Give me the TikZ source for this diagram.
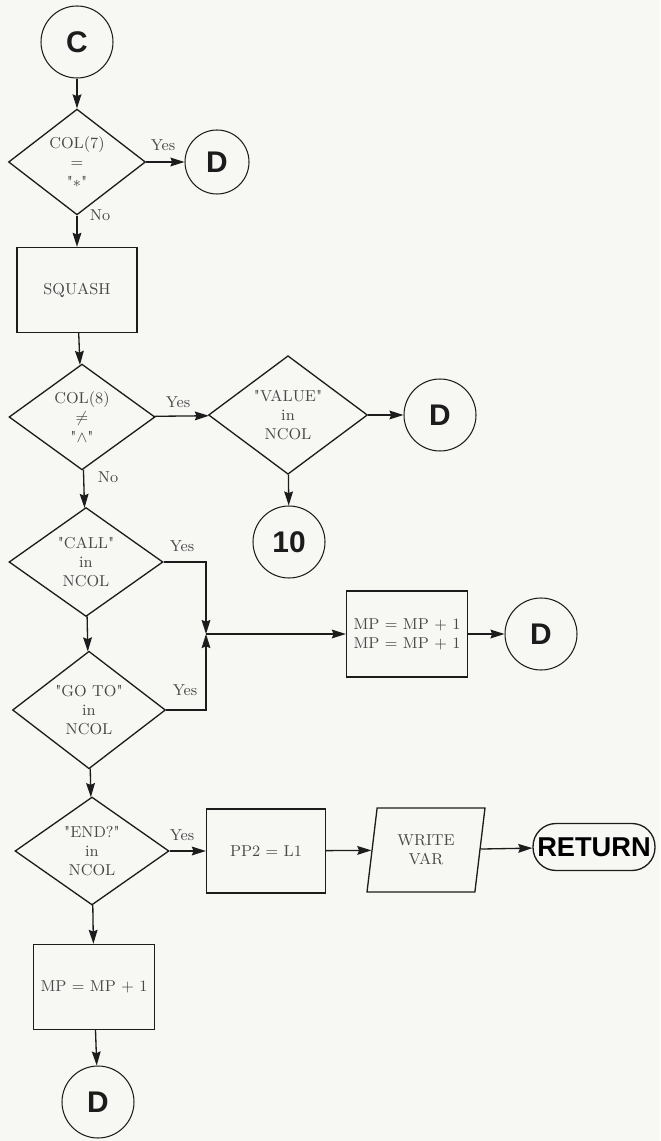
\documentclass[tikz,border=0pt]{standalone}
\usepackage{fontspec}
\usepackage{xcolor}
\usepackage{tikz}
\usetikzlibrary{shapes.geometric, arrows.meta, positioning}
\newfontfamily\letterfont{Liberation Sans}
\newcommand\qtxt[1]{\textquotedbl#1\textquotedbl}
\definecolor{Paper}{RGB}{247,247,244}
\definecolor{Ink}{RGB}{28,28,28}
\definecolor{TypeInk}{RGB}{72,72,72}
\tikzset{
  flow/.style={-{Stealth[length=8pt, width=5pt, inset=1pt]}, line width=0.75pt, draw=Ink},
  decision/.style={diamond, draw=Ink, line width=0.75pt, inner sep=0pt, align=center,
    font=\small, text=TypeInk},
  procbox/.style={draw=Ink, line width=0.75pt, minimum width=2.4cm, minimum height=1.7cm,
    inner sep=2pt, align=center, font=\small, text=TypeInk},
  conn/.style={circle, draw=Ink, line width=0.6pt, minimum size=1.44cm, inner sep=0pt,
    font=\letterfont\bfseries\fontsize{17}{20}\selectfont, text=Ink},
  iobox/.style={trapezium, trapezium left angle=79, trapezium right angle=101,
    trapezium stretches=true, draw=Ink, line width=0.75pt, minimum width=2.36cm,
    minimum height=1.68cm, inner sep=0pt, align=center, font=\small, text=TypeInk},
  term/.style={draw=Ink, line width=0.75pt, rounded corners=0.46cm, minimum width=2.44cm,
    minimum height=0.94cm, inner sep=0pt, font=\letterfont\bfseries\fontsize{15.5}{18}\selectfont},
  lbl/.style={font=\small, text=TypeInk, inner sep=1pt},
}

\begin{document}
\begin{tikzpicture}[x=0.02cm, y=-0.02cm]
  \fill[Paper] (0,0) rectangle (660,1141);
  \node[conn] (c0) at (77,42) {C};
  \node[decision, minimum width=2.74cm, minimum height=1.92cm] (q7) at (77,162) {COL(7)\\=\\\qtxt{$*$}};
  \foreach \n/\x/\y/\s in {d1/217/162/1.28, d2/440/415/1.44, d3/541/634/1.44, d4/98/1102/1.44}
    \node[conn, minimum size=\s cm] (\n) at (\x,\y) {D};
  \node[procbox] (sq) at (77,290) {SQUASH};
  \node[decision, minimum width=2.92cm, minimum height=2.08cm] (q8) at (82,417) {COL(8)\\$\neq$\\\qtxt{$\wedge$}};
  \node[decision, minimum width=3.18cm, minimum height=2.24cm] (qv) at (288,415) {\qtxt{VALUE}\\in\\NCOL};
  \node[conn] (n10) at (289,542) {10};
  \node[decision, minimum width=3.08cm, minimum height=2.18cm] (qcall) at (86,562) {\qtxt{CALL}\\in\\NCOL};
  \node[decision, minimum width=3.06cm, minimum height=2.16cm] (qgoto) at (89,710) {\qtxt{GO TO}\\in\\NCOL};
  \coordinate (jn) at (206,634);
  \node[procbox, minimum width=2.42cm, minimum height=1.72cm] (mp2) at (407,634) {MP = MP + 1\\MP = MP + 1};
  \node[decision, minimum width=3.08cm, minimum height=2.16cm] (qend) at (92,851) {\qtxt{END?}\\in\\NCOL};
  \node[procbox, minimum width=2.38cm, minimum height=1.68cm] (pp) at (266,851) {PP2 = L1};
  \node[iobox] (wr) at (426,850) {WRITE\\VAR};
  \node[term] (ret) at (594,847) {RETURN};
  \node[procbox, minimum width=2.42cm] (mp1) at (94,987) {MP = MP + 1};

  \node[lbl] (y1) at (163,145) {Yes};
  \node[lbl] (n1) at (100,215) {No};
  \node[lbl] (y2) at (178,402) {Yes};
  \node[lbl] (n2) at (108,477) {No};
  \node[lbl] (y3) at (182,546) {Yes};
  \node[lbl] (y4) at (185,690) {Yes};
  \node[lbl] (y5) at (182,835) {Yes};

  \draw[flow] (c0) -- (q7);
  \draw[flow] (q7) -- (d1);
  \draw[flow] (q7) -- (sq);
  \draw[flow] (sq) -- (q8);
  \draw[flow] (q8) -- (qv);
  \draw[flow] (qv) -- (d2);
  \draw[flow] (qv) -- (n10);
  \draw[flow] (q8) -- (qcall);
  \draw[flow] (qcall) -- (qgoto);
  \draw[flow] (qcall.east) -| (jn);
  \draw[flow] (qgoto.east) -| (jn);
  \draw[flow] (jn) -- (mp2);
  \draw[flow] (mp2) -- (d3);
  \draw[flow] (qgoto) -- (qend);
  \draw[flow] (qend) -- (pp);
  \draw[flow] (pp) -- (wr);
  \draw[flow] (wr) -- (ret);
  \draw[flow] (qend) -- (mp1);
  \draw[flow] (mp1) -- (d4);
\end{tikzpicture}
\end{document}
